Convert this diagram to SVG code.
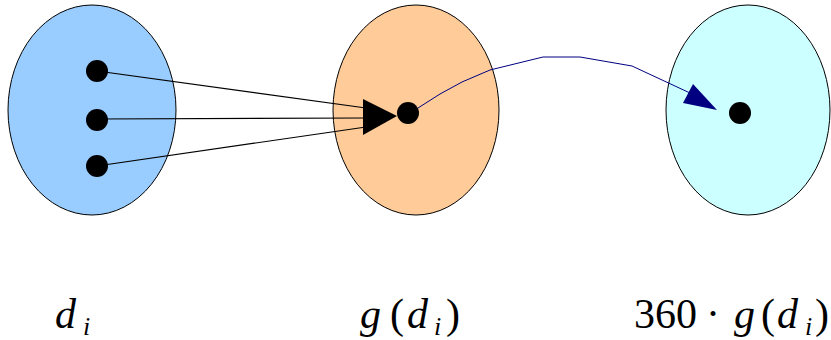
<svg xmlns="http://www.w3.org/2000/svg" width="831" height="340" viewBox="0 0 831 340">
<style>
.set{stroke:#000;stroke-width:1}
.dot{fill:#000}
.lbl{font-family:"Liberation Serif","Times New Roman",serif;font-style:italic;font-size:42px;fill:#000}
.up{font-style:normal}
.sub{font-size:26px}
</style>
<rect width="831" height="340" fill="#fff"/>
<g id="set-d">
<ellipse class="set" cx="92" cy="110" rx="84" ry="105" fill="#99ccff"/>
<circle class="dot" cx="97" cy="71" r="11"/>
<circle class="dot" cx="97" cy="120" r="11"/>
<circle class="dot" cx="97" cy="166" r="11"/>
</g>
<g id="set-g">
<ellipse class="set" cx="416" cy="110" rx="83" ry="105" fill="#ffcc99"/>
<circle class="dot" cx="408" cy="113" r="11"/>
</g>
<g id="set-360">
<ellipse class="set" cx="748" cy="110" rx="82" ry="105" fill="#ccffff"/>
<circle class="dot" cx="740" cy="113" r="11"/>
</g>
<g id="connectors">
<line x1="97" y1="71" x2="366" y2="108" stroke="#000" stroke-width="1.2"/>
<line x1="97" y1="119" x2="366" y2="118" stroke="#000" stroke-width="1.2"/>
<line x1="97" y1="166" x2="366" y2="127" stroke="#000" stroke-width="1.2"/>
<polygon points="363,99 397,116 363,135" fill="#000"/>
<polyline points="418,108 440,94 462,82 490,70 543,57 580,57 632,66 690,93" fill="none" stroke="#000080" stroke-width="1"/>
<polygon points="717,110 693,84 683,103" fill="#000080"/>
</g>
<g id="labels">
<text class="lbl" y="328"><tspan x="55">d</tspan><tspan class="sub" x="83" y="335">i</tspan></text>
<text class="lbl" y="328"><tspan x="360">g</tspan><tspan class="up" x="390">(</tspan><tspan x="407">d</tspan><tspan class="sub" x="434" y="335">i</tspan><tspan class="up" x="446" y="328">)</tspan></text>
<text class="lbl" y="328"><tspan class="up" x="634">360</tspan><tspan class="up" x="706">·</tspan><tspan x="734">g</tspan><tspan class="up" x="761">(</tspan><tspan x="777">d</tspan><tspan class="sub" x="805" y="335">i</tspan><tspan class="up" x="815" y="328">)</tspan></text>
</g>
</svg>
